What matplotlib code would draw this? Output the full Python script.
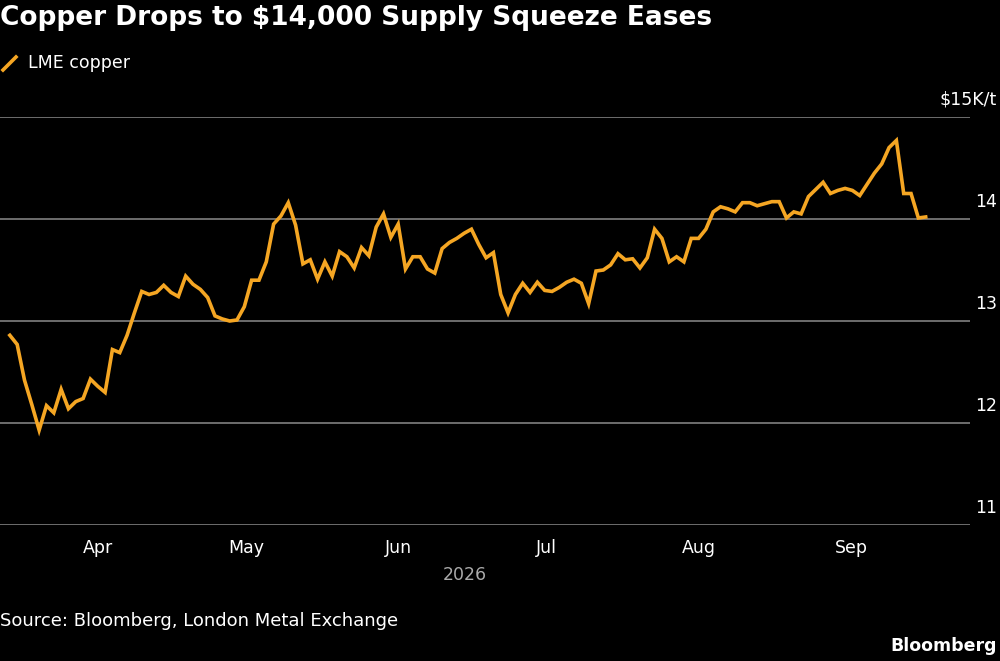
import matplotlib
matplotlib.use("Agg")
import matplotlib.pyplot as plt
import matplotlib.transforms as mtransforms
import pandas as pd

values = [12.86,12.77,12.42,12.18,11.93,12.17,12.10,12.33,12.14,12.21,12.24,12.43,12.36,12.30,12.72,12.69,12.86,13.08,13.29,13.26,
          13.28,13.35,13.28,13.24,13.44,13.36,13.31,13.23,13.05,13.02,13.00,13.01,13.14,13.40,13.40,13.58,13.95,14.03,14.16,13.94,
          13.56,13.60,13.41,13.58,13.44,13.68,13.63,13.52,13.72,13.64,13.92,14.05,13.82,13.95,13.51,13.63,13.63,13.51,13.47,13.71,
          13.77,13.81,13.86,13.90,13.75,13.62,13.67,13.26,13.08,13.26,13.37,13.28,13.38,13.30,13.29,13.33,13.38,13.41,13.37,13.17,
          13.49,13.50,13.55,13.66,13.60,13.61,13.52,13.62,13.90,13.81,13.58,13.63,13.58,13.81,13.81,13.90,14.07,14.12,14.10,14.07,
          14.16,14.16,14.13,14.15,14.17,14.17,14.01,14.07,14.05,14.22,14.29,14.36,14.25,14.28,14.30,14.28,14.23,14.34,14.45,14.54,
          14.70,14.77,14.25,14.25,14.01,14.02]
start_date, end_date = "2026-03-14", "2026-09-16"
dates = pd.date_range(start_date, end_date, periods=len(values))
yticks = [11, 12, 13, 14, 15]
ytick_labels = ["11", "12", "13", "14", "$15K/t"]
month_ticks = pd.to_datetime(["2026-04-01","2026-05-01","2026-06-01","2026-07-01","2026-08-01","2026-09-01"])
month_labels = ["Apr","May","Jun","Jul","Aug","Sep"]

orange = "#f5a623"
fig = plt.figure(figsize=(10, 6.61), dpi=100, facecolor="black")
ax = fig.add_axes([0.0, 1 - 525/661, 0.97, 408/661], facecolor="black")
ax.plot(dates, values, color=orange, lw=2.6, solid_joinstyle="miter", zorder=3)
ax.set_ylim(11, 15)
ax.set_xlim(pd.Timestamp("2026-03-12"), pd.Timestamp("2026-09-25"))
for s in ax.spines.values():
    s.set_visible(False)
ax.set_yticks(yticks)
ax.yaxis.grid(True, color="#808080", lw=1.2)
ax.tick_params(axis="y", length=0, labelleft=False)
trans = mtransforms.blended_transform_factory(fig.transFigure, ax.transData)
off = mtransforms.offset_copy(trans, fig=fig, y=6, units="points")
for v, lab in zip(yticks, ytick_labels):
    ax.text(0.997, v, lab, transform=off, ha="right", va="bottom", color="white", fontsize=12.5)
ax.set_xticks(month_ticks)
ax.set_xticklabels(month_labels)
ax.tick_params(axis="x", length=0, colors="white", labelsize=12.5, pad=10)
ax.set_axisbelow(True)

fig.text(465/1000, 1 - 575/661, "2026", color="#aaaaaa", fontsize=12.5, ha="center", va="center")
fig.text(0.0, 1 - 18/661, "Copper Drops to $14,000 Supply Squeeze Eases", color="white",
         fontsize=19, fontweight="bold", ha="left", va="center")
fig.add_artist(plt.Line2D([3/1000, 16/1000], [1 - 70/661, 1 - 57/661], color=orange, lw=2.6, transform=fig.transFigure))
fig.text(28/1000, 1 - 63/661, "LME copper", color="white", fontsize=12.5, ha="left", va="center")
fig.text(0.0, 1 - 621/661, "Source: Bloomberg, London Metal Exchange", color="white", fontsize=13, ha="left", va="center")
fig.text(0.997, 1 - 646/661, "Bloomberg", color="white", fontsize=12.5, fontweight="bold", ha="right", va="center")
fig.savefig("out.png", dpi=100, facecolor="black")
